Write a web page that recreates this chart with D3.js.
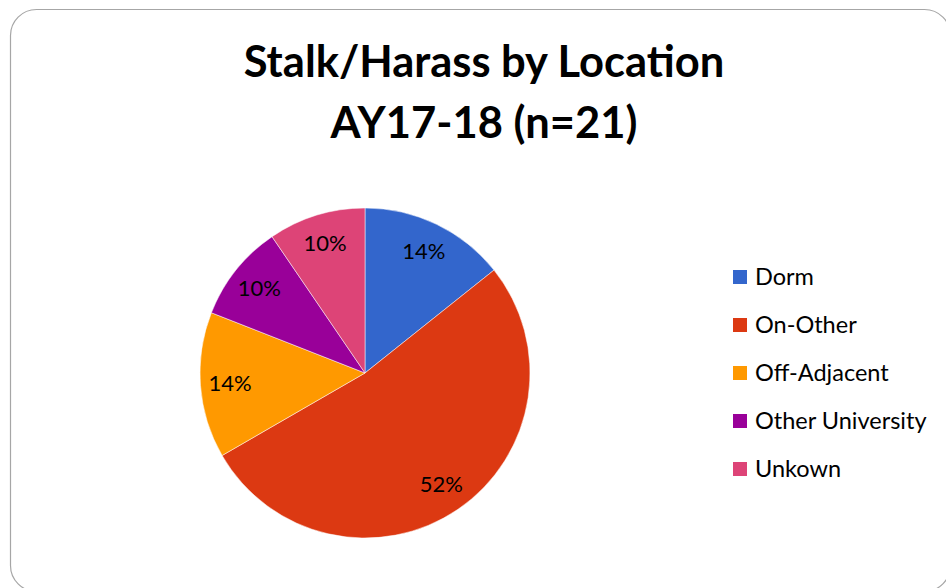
<!DOCTYPE html>
<html>
<head>
<meta charset="utf-8">
<script src="https://cdn.jsdelivr.net/npm/d3@7"></script>
<style>
  body { margin: 0; background: #fff; }
  svg { display: block; font-family: Lato, "Open Sans", sans-serif; }
</style>
</head>
<body>
<svg id="svg" width="946" height="588"></svg>
<script>
const titleLines = ["Stalk/Harass by Location", "AY17-18 (n=21)"];
const categories = ["Dorm", "On-Other", "Off-Adjacent", "Other University", "Unkown"];
const counts = [3, 11, 3, 2, 2];
const colors = ["#3366cc", "#dc3912", "#ff9900", "#990099", "#dd4477"];

const width = 946, height = 588;
const cx = 365, cy = 373, radius = 165;

const svg = d3.select("#svg");

// chart frame
svg.append("rect")
    .attr("x", 10.5)
    .attr("y", 9.5)
    .attr("width", 940)
    .attr("height", 582)
    .attr("rx", 26)
    .attr("fill", "#fff")
    .attr("stroke", "#a6a6a6")
    .attr("stroke-width", 1.2);

svg.append("g")
    .selectAll("text")
    .data(titleLines)
    .join("text")
    .attr("x", 484)
    .attr("y", (d, i) => 77 + i * 61)
    .attr("text-anchor", "middle")
    .attr("font-size", 43.5)
    .attr("font-weight", 700)
    .attr("fill", "#000")
    .text(d => d);

const total = d3.sum(counts);
const data = categories.map((c, i) => ({name: c, value: counts[i], color: colors[i]}));

const pie = d3.pie().value(d => d.value).sort(null);
const arc = d3.arc().innerRadius(0).outerRadius(radius);
const labelArc = d3.arc().innerRadius(radius * 0.82).outerRadius(radius * 0.82);

const g = svg.append("g").attr("transform", `translate(${cx},${cy})`);
const arcs = pie(data);

g.selectAll("path")
    .data(arcs)
    .join("path")
    .attr("d", arc)
    .attr("fill", d => d.data.color)
    .attr("stroke", "#fff")
    .attr("stroke-width", 0.5);

g.selectAll("text")
    .data(arcs)
    .join("text")
    .attr("transform", d => `translate(${labelArc.centroid(d)})`)
    .attr("text-anchor", "middle")
    .attr("dy", "0.35em")
    .attr("font-size", 22)
    .attr("fill", "#000")
    .text(d => `${Math.round(d.data.value / total * 100)}%`);

const legend = svg.append("g").attr("transform", "translate(733,270)");
const item = legend.selectAll("g")
    .data(data)
    .join("g")
    .attr("transform", (d, i) => `translate(0,${i * 48})`);

item.append("rect")
    .attr("width", 14)
    .attr("height", 14)
    .attr("fill", d => d.color);

item.append("text")
    .attr("x", 22)
    .attr("y", 7)
    .attr("dy", "0.35em")
    .attr("font-size", 23.5)
    .attr("fill", "#000")
    .text(d => d.name);
</script>
</body>
</html>
